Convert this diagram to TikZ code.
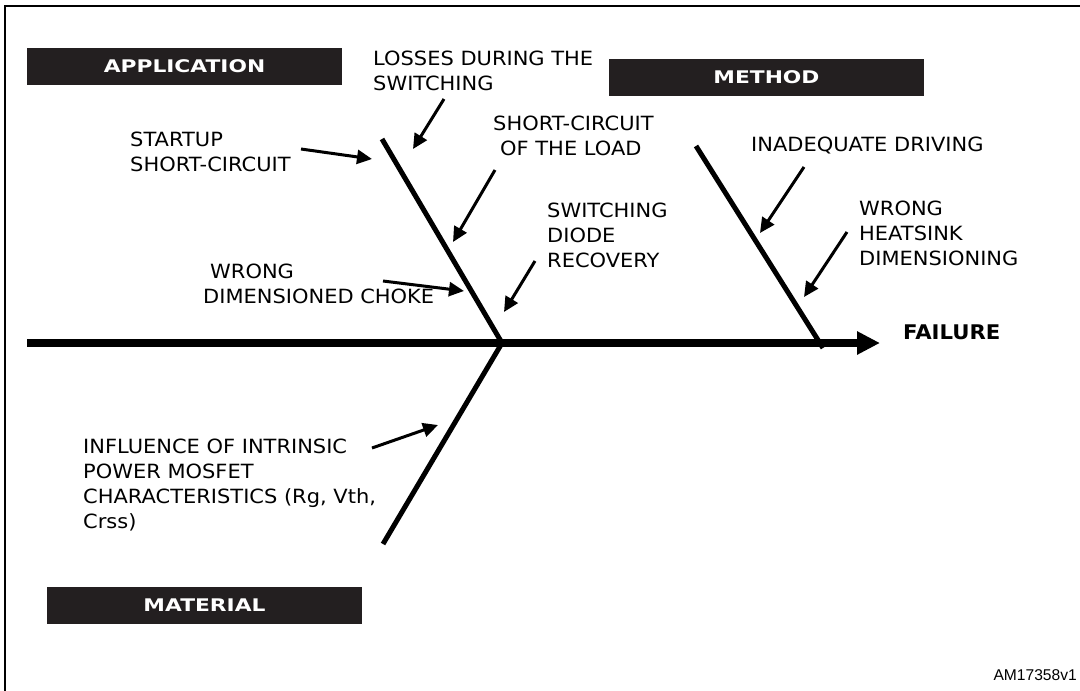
\documentclass[tikz,border=0pt]{standalone}
\usepackage{fontspec}
\setmainfont[FakeStretch=1.07]{DejaVu Sans}
\newfontfamily\boxfont[FakeStretch=1.25]{DejaVu Sans}
\newfontfamily\failfont[FakeStretch=1.05]{DejaVu Sans}
\newfontfamily\idfont{Liberation Sans}
\usetikzlibrary{arrows.meta}
\definecolor{boxdark}{HTML}{231F20}
\begin{document}
\begin{tikzpicture}[x=1pt,y=-1pt,
		bone/.style={line width=5pt},
		cause/.style={line width=3pt,-{Triangle[length=15pt,width=14pt]}},
		causetext/.style={anchor=base west,align=left,inner sep=0pt,font=\fontsize{19.6}{25}\selectfont},
		catbox/.style={fill=boxdark,text=white,minimum width=315pt,minimum height=37pt,inner sep=0pt,font=\boxfont\bfseries\fontsize{17.4}{20}\selectfont}]
				\useasboundingbox (0,0) rectangle (1080,691);
				\draw [line width=2.5pt] (5,700) -- (5,6) -- (1090,6);
				\coordinate (T) at (27,343);
				\coordinate (F) at (880,343);
				\coordinate (H) at (502,343);
				\coordinate (A0) at (382,139);
				\coordinate (M0) at (383,544);
				\coordinate (E0) at (696,146);
				\coordinate (E1) at (823,348);
				\draw [line width=8pt,-{Triangle[length=23pt,width=22pt]}] (T) -- (F);
				\draw [bone] (A0) -- (H) -- (M0);
				\draw [bone] (E0) -- (E1);
				\node [catbox] (application) at (184.5,66.5) {APPLICATION};
				\node [catbox] (method) at (766.5,77.5) {METHOD};
				\node [catbox] (material) at (204.5,605.5) {MATERIAL};
				\node [causetext] (startup) at (130,171) {STARTUP\\SHORT-CIRCUIT};
				\node [causetext] (losses) at (373,90) {LOSSES DURING THE\\SWITCHING};
				\node [causetext] (load) at (493,155) {SHORT-CIRCUIT\\\hspace*{7pt}OF THE LOAD};
				\node [causetext] (diode) at (547,267) {SWITCHING\\DIODE\\RECOVERY};
				\node [causetext] (choke) at (203,303) {\hspace*{7pt}WRONG\\DIMENSIONED CHOKE};
				\node [causetext] (driving) at (751,151) {INADEQUATE DRIVING};
				\node [causetext] (heatsink) at (859,265) {WRONG\\HEATSINK\\DIMENSIONING};
				\node [causetext] (mosfet) at (83,528) {INFLUENCE OF INTRINSIC\\POWER MOSFET\\CHARACTERISTICS (Rg, Vth,\\Crss)};
				\node [anchor=base west,inner sep=0pt,font=\failfont\bfseries\fontsize{20.2}{24}\selectfont] (failure) at (903,339) {FAILURE};
				\node [anchor=base east,inner sep=0pt,font=\idfont\fontsize{15.6}{18}\selectfont] (code) at (1077,680) {AM17358v1};
				\coordinate (s1) at (301,149);
				\coordinate (s2) at (372,159);
				\coordinate (l1) at (444,99);
				\coordinate (l2) at (413,149);
				\coordinate (c1) at (495,170);
				\coordinate (c2) at (453,242);
				\coordinate (w1) at (383,281);
				\coordinate (w2) at (464,291);
				\coordinate (d1) at (535,261);
				\coordinate (d2) at (504,312);
				\coordinate (i1) at (804,167);
				\coordinate (i2) at (760,233);
				\coordinate (h1) at (847,232);
				\coordinate (h2) at (804,297);
				\coordinate (p1) at (372,448);
				\coordinate (p2) at (438,425);
				\draw [cause] (s1) -- (s2);
				\draw [cause] (l1) -- (l2);
				\draw [cause] (c1) -- (c2);
				\draw [cause] (w1) -- (w2);
				\draw [cause] (d1) -- (d2);
				\draw [cause] (i1) -- (i2);
				\draw [cause] (h1) -- (h2);
				\draw [cause] (p1) -- (p2);
\end{tikzpicture}
\end{document}
